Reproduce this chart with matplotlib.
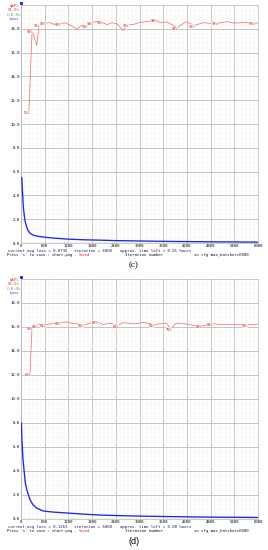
import matplotlib
matplotlib.use("Agg")
import matplotlib.pyplot as plt
import numpy as np

# figure is 268 x 550 px
W, H = 268, 550
MONO = "DejaVu Sans Mono"

# chart scale
y_max = 20.0
x_max = 6000
x_ticks = list(range(0, 6001, 600))
y_ticks = [0, 2, 4, 6, 8, 10, 12, 14, 16, 18]

# ---- chart (c) ----
loss_iters_c = [1, 20, 40, 60, 80, 100, 130, 170, 220, 300, 400, 560, 800, 1160,
                1600, 2000, 2400, 3000, 3600, 4200, 4800, 5400, 6000]
loss_c = [25.0, 5.5, 4.2, 3.0, 2.4, 1.9, 1.5, 1.1, 0.85, 0.67, 0.58, 0.5, 0.42, 0.33,
          0.27, 0.24, 0.2, 0.17, 0.14, 0.12, 0.1, 0.09, 0.074]
map_iters_c = [200, 280, 400, 460, 600, 730, 860, 990, 1110, 1240, 1420, 1540, 1670,
               1800, 1920, 2050, 2180, 2300, 2430, 2580, 2710, 2840, 2990, 3240, 3420,
               3540, 3700, 3950, 4180, 4380, 4630, 4840, 4960, 5220, 5390, 5650, 5900, 6000]
map_c = [55.2, 89.1, 83.0, 91.6, 92.4, 92.6, 91.7, 92.2, 92.5, 91.6, 89.8, 91.5, 91.2,
         92.6, 93.1, 92.8, 91.7, 92.6, 92.1, 89.3, 91.6, 91.8, 92.6, 93.2, 93.6,
         92.5, 92.9, 90.4, 93.0, 91.4, 92.6, 92.2, 92.3, 93.0, 92.4, 92.6, 92.3, 92.5]
map_labels_c = [0, 1, 3, 4, 7, 12, 13, 15, 20, 24, 27, 29, 32, 36]
legend_c = ["mAP%", "91.8%", "C:0.0%", "Loss"]
info_c = ["current avg loss = 0.0736", "iteration = 6000", "approx. time left = 0.01 hours"]

# ---- chart (d) ----
loss_iters_d = [1, 10, 25, 50, 76, 110, 150, 230, 300, 400, 560, 800, 1160, 1600,
                2000, 2600, 3200, 3800, 4400, 5000, 5600, 6000]
loss_d = [25.0, 8.0, 6.5, 5.0, 4.1, 3.0, 2.4, 1.6, 1.2, 0.9, 0.67, 0.58, 0.5, 0.4,
          0.33, 0.27, 0.23, 0.2, 0.17, 0.15, 0.14, 0.126]
map_iters_d = [228, 278, 405, 481, 608, 734, 861, 987, 1165, 1291, 1418, 1570, 1747,
               1924, 2076, 2253, 2456, 2582, 2759, 2861, 3114, 3367, 3671, 3797, 3924,
               4203, 4329, 4557, 4835, 5063, 5392, 5722, 6000]
map_d = [60.3, 79.8, 80.6, 81.2, 80.9, 81.3, 81.4, 81.8, 82.1, 81.5, 81.3, 80.8, 81.6,
         82.3, 81.0, 81.6, 80.6, 81.8, 81.5, 81.3, 81.9, 81.0, 81.6, 79.4, 81.6,
         81.2, 80.8, 80.3, 81.4, 81.0, 81.0, 80.9, 81.2]
map_labels_d = [0, 1, 2, 4, 7, 11, 13, 16, 21, 23, 27, 28, 31]
legend_d = ["mAP%", "80.5%", "C:0.0%", "Loss"]
info_d = ["current avg loss = 0.1263", "iteration = 6000", "approx. time left = 0.00 hours"]


def fx(x):
    return x / W


def fy(y):
    return 1 - y / H


fig = plt.figure(figsize=(W / 100, H / 100), dpi=100)
fig.patch.set_facecolor("white")


def draw_chart(top, bottom, loss_it, loss, map_it, maps, labels, legend, info, caption, cap_font):
    ax = fig.add_axes([fx(21), fy(bottom), fx(258) - fx(21), (bottom - top) / H])
    ax.set_xlim(0, x_max)
    ax.set_ylim(0, y_max)

    # grid
    ax.set_xticks(x_ticks)
    ax.set_yticks(y_ticks)
    ax.set_xticks(np.arange(0, x_max + 1, 100), minor=True)
    ax.set_yticks(np.arange(0, y_max + 0.01, 0.4), minor=True)
    ax.grid(which="minor", color="#efefef", lw=0.35)
    ax.grid(which="major", color="#c0c0c0", lw=0.65)
    ax.set_axisbelow(True)
    ax.set_xticklabels([str(t) for t in x_ticks], fontsize=2.8, family=MONO)
    ax.set_yticklabels([f"{t:.1f}" for t in y_ticks], fontsize=2.8, family=MONO)
    ax.tick_params(which="major", length=0, pad=0.8)
    ax.tick_params(axis="y", which="minor", length=1.0, width=0.3, color="#999999", direction="in")
    ax.tick_params(axis="x", which="minor", length=0)
    for s in ax.spines.values():
        s.set_color("#b5b5b5")
        s.set_linewidth(0.5)

    # green series at zero
    ax.plot([0, x_max], [0, 0], color="#a8dcb8", lw=1.0, zorder=2)

    # loss: first point above max is drawn at the top edge
    li = np.array(loss_it)
    lv = np.array(loss)
    ax.plot(li[1:], lv[1:], color="#2424e0", lw=0.95, zorder=4)
    ax.plot(li[:1], np.minimum(lv[:1], y_max * 1.01), marker="s", ms=1.2, color="#2424e0",
            ls="none", clip_on=False, zorder=5)

    # mAP scaled to chart max
    mv = np.array(maps) * y_max / 100.0
    ax.plot(map_it, mv, color="#e87878", lw=0.55, zorder=3)
    for i in labels:
        ax.annotate(f"{round(maps[i])}%", (map_it[i], mv[i]), xytext=(-1.5, -0.8),
                    textcoords="offset points", ha="center", va="center",
                    fontsize=2.6, family=MONO, color="#d02020", zorder=6,
                    bbox=dict(boxstyle="square,pad=0.05", fc="white", ec="none", alpha=0.7))

    # legend
    leg_cols = ["#e04040", "#e04040", "#40a060", "#2020e0"]
    for k, (t, c) in enumerate(zip(legend, leg_cols)):
        fig.text(fx(14), fy(top + 1 + 4.3 * k), t, fontsize=2.8, family=MONO, color=c,
                 ha="center", va="center")

    # info text under chart
    l1 = bottom + 8
    l2 = bottom + 12
    fig.text(fx(8), fy(l1), info[0], fontsize=2.9, family=MONO, color="#1a1a70", va="center")
    fig.text(fx(74), fy(l1), info[1], fontsize=2.9, family=MONO, color="#1a1a70", va="center")
    fig.text(fx(120), fy(l1), info[2], fontsize=2.9, family=MONO, color="#1a1a70", va="center")
    fig.text(fx(7), fy(l2), "Press 's' to save : chart.png -", fontsize=2.7, family=MONO,
             color="#111111", va="center")
    fig.text(fx(79), fy(l2), "Saved", fontsize=2.7, family=MONO, color="#e02020", va="center")
    fig.text(fx(125), fy(l2), "Iteration number", fontsize=2.9, family=MONO, color="#111111", va="center")
    fig.text(fx(194), fy(l2), "in cfg max_batches=6000", fontsize=2.9, family=MONO,
             color="#111111", va="center")

    fig.text(fx(134), fy(bottom + 22), caption, fontsize=6.5, family=cap_font,
             color="black", ha="center", va="center")
    return ax


draw_chart(5, 243, loss_iters_c, loss_c, map_iters_c, map_c, map_labels_c, legend_c, info_c,
           "(c)", "Liberation Serif")
draw_chart(279, 519, loss_iters_d, loss_d, map_iters_d, map_d, map_labels_d, legend_d, info_d,
           "(d)", "Liberation Sans")

fig.savefig("out.png", dpi=100, facecolor="white")
